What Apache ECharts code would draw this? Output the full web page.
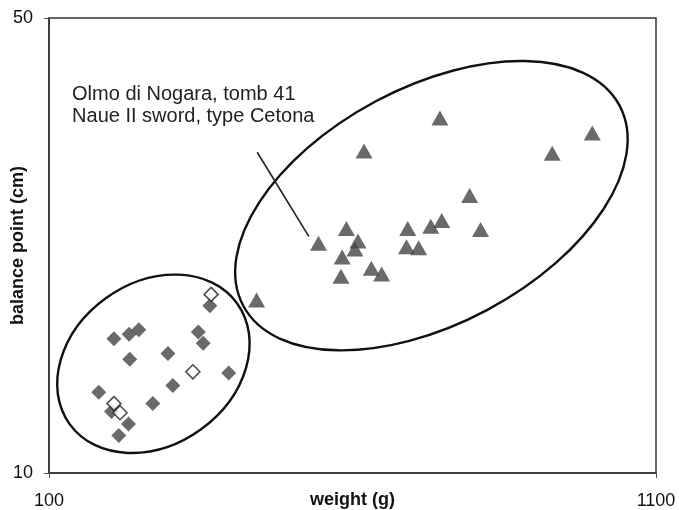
<!DOCTYPE html>
<html><head><meta charset="utf-8">
<script src="https://cdn.jsdelivr.net/npm/echarts@6/dist/echarts.min.js"></script>
<style>html,body{margin:0;padding:0;background:#fff}#c{width:679px;height:510px}</style>
</head><body><div id="c"></div>
<script>
// ---- data (weight in g, balance point in cm) ----
const xTicks = [100, 1100];
const yTicks = [10, 50];

const triWeight  = [442, 544, 590, 609, 604, 583, 581, 631, 648, 619, 744, 691, 729, 747, 689, 709, 929, 995, 793, 811];
const triBalance = [25.2, 30.2, 31.5, 30.4, 29.7, 29.0, 27.3, 28.0, 27.5, 38.3, 41.2, 31.5, 31.7, 32.2, 29.9, 29.8, 38.1, 39.9, 34.4, 31.4];

const diaWeight  = [207, 232, 248, 233, 296, 346, 354, 365, 396, 182, 304, 271, 203, 231, 215];
const diaBalance = [21.8, 22.2, 22.6, 20.0, 20.5, 22.4, 21.4, 24.7, 18.8, 17.1, 17.7, 16.1, 15.4, 14.3, 13.3];

const openWeight  = [367, 337, 207, 217];
const openBalance = [25.7, 18.9, 16.1, 15.3];

// annotation (data coordinates)
const noteText = ['Olmo di Nogara, tomb 41', 'Naue II sword, type Cetona'];
const noteAnchor = [138, 42.27];
const leaderFrom = [443, 38.2];
const leaderTo = [528, 30.8];
// ellipses: centre, end of major semi-axis (data), minor semi-axis as fraction of major
const ellipseA = { centre: [730, 33.5], vertex: [1040, 42.3], ratio: 0.555 };
const ellipseB = { centre: [272, 19.6], vertex: [410, 24.9], ratio: 0.785 };

const FONT = 'Liberation Sans, Arial, sans-serif';
const INK = '#454545';
const zip = (a, b) => a.map((v, i) => [v, b[i]]);

const chart = echarts.init(document.getElementById('c'), null, { renderer: 'canvas' });
chart.setOption({
  animation: false,
  backgroundColor: '#fff',
  grid: { left: 49, right: 23, top: 18, bottom: 37, containLabel: false, outerBoundsMode: 'none',
          show: true, borderColor: '#333', borderWidth: 1.5, backgroundColor: 'transparent' },
  xAxis: {
    type: 'value', min: xTicks[0], max: xTicks[1], interval: xTicks[1] - xTicks[0],
    name: 'weight (g)', nameLocation: 'middle', nameGap: 18, nameMoveOverlap: false,
    nameTextStyle: { fontFamily: FONT, fontWeight: 'bold', fontSize: 18, color: '#111' },
    axisLine: { show: true, lineStyle: { color: '#333', width: 1.5 } },
    axisTick: { show: true, length: 5, lineStyle: { color: '#555' } },
    axisLabel: { margin: 19, fontFamily: FONT, fontSize: 18, color: '#111', showMinLabel: true, showMaxLabel: true,
                 formatter: v => String(v) },
    splitLine: { show: false }
  },
  yAxis: {
    type: 'value', min: yTicks[0], max: yTicks[1], interval: yTicks[1] - yTicks[0],
    name: 'balance point (cm)', nameLocation: 'middle', nameGap: 22, nameRotate: 90, nameMoveOverlap: false,
    nameTextStyle: { fontFamily: FONT, fontWeight: 'bold', fontSize: 18, color: '#111' },
    axisLine: { show: true, lineStyle: { color: '#333', width: 1.5 } },
    axisTick: { show: true, length: 5, lineStyle: { color: '#555' } },
    axisLabel: { margin: 16, fontFamily: FONT, fontSize: 18, color: '#111', formatter: v => String(v) },
    splitLine: { show: false }
  },
  series: [
    { type: 'scatter', data: zip(diaWeight, diaBalance), symbol: 'diamond', symbolSize: 15,
      itemStyle: { color: INK } },
    { type: 'scatter', data: zip(openWeight, openBalance), symbol: 'diamond', symbolSize: 14,
      itemStyle: { color: '#fff', borderColor: '#222', borderWidth: 1.6 } },
    { type: 'scatter', data: zip(triWeight, triBalance), symbol: 'triangle', symbolSize: [17, 15],
      itemStyle: { color: INK } }
  ]
});

function ellipseGraphic(e) {
  const c = chart.convertToPixel({ gridIndex: 0 }, e.centre);
  const v = chart.convertToPixel({ gridIndex: 0 }, e.vertex);
  const dx = v[0] - c[0], dy = v[1] - c[1];
  const a = Math.sqrt(dx * dx + dy * dy);
  return {
    type: 'ellipse', x: c[0], y: c[1], rotation: Math.atan2(-dy, dx), z: 1,
    shape: { cx: 0, cy: 0, rx: a, ry: a * e.ratio },
    style: { fill: null, stroke: '#111', lineWidth: 2.4 }
  };
}
const p0 = chart.convertToPixel({ gridIndex: 0 }, leaderFrom);
const p1 = chart.convertToPixel({ gridIndex: 0 }, leaderTo);
const pt = chart.convertToPixel({ gridIndex: 0 }, noteAnchor);
chart.setOption({
  graphic: [
    ellipseGraphic(ellipseA),
    ellipseGraphic(ellipseB),
    { type: 'line', z: 1, shape: { x1: p0[0], y1: p0[1], x2: p1[0], y2: p1[1] }, style: { stroke: '#222', lineWidth: 1.6 } },
    { type: 'text', x: pt[0], y: pt[1], z: 1,
      style: { text: noteText.join('\n'), font: '20px ' + FONT, fill: '#222', lineHeight: 22, verticalAlign: 'middle', align: 'left' } }
  ]
});
</script>
</body></html>
